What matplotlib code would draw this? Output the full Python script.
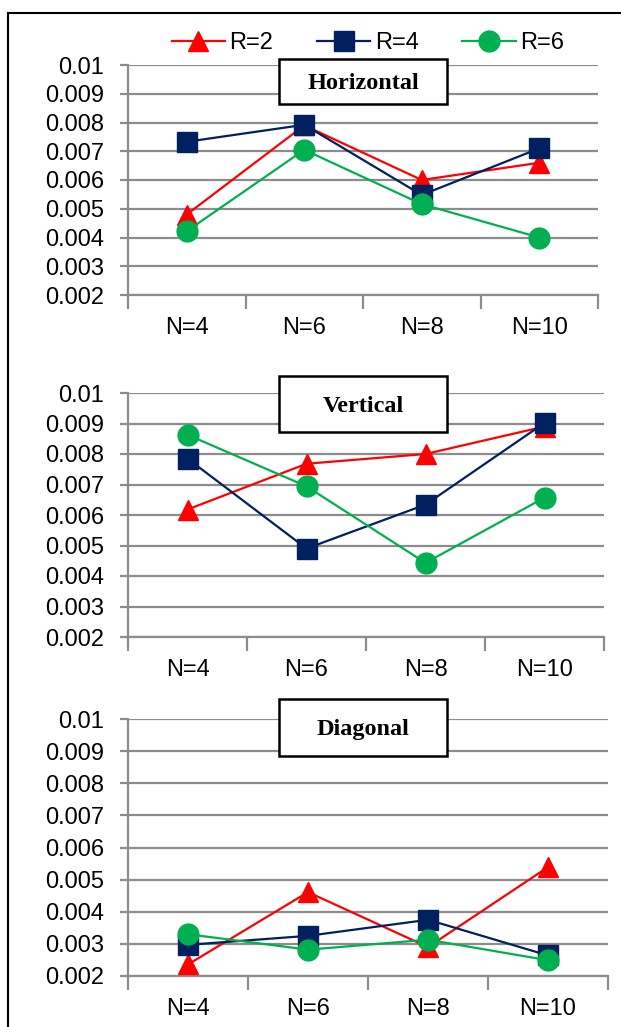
import matplotlib.pyplot as plt
from matplotlib.patches import Rectangle
from matplotlib.lines import Line2D

# data
categories = ["N=4", "N=6", "N=8", "N=10"]
series_names = ["R=2", "R=4", "R=6"]

horizontal_r2 = [0.0048, 0.0079, 0.0060, 0.0066]
horizontal_r4 = [0.00733, 0.00792, 0.00548, 0.0071]
horizontal_r6 = [0.00422, 0.00705, 0.00516, 0.0040]

vertical_r2 = [0.00618, 0.00768, 0.0080, 0.0089]
vertical_r4 = [0.00785, 0.0049, 0.00634, 0.00902]
vertical_r6 = [0.00863, 0.00694, 0.00443, 0.00657]

diagonal_r2 = [0.00236, 0.00461, 0.0029, 0.00539]
diagonal_r4 = [0.00297, 0.00325, 0.00375, 0.00264]
diagonal_r6 = [0.0033, 0.00282, 0.00313, 0.00249]

y_ticks = [0.002, 0.003, 0.004, 0.005, 0.006, 0.007, 0.008, 0.009, 0.01]
y_labels = ["0.002", "0.003", "0.004", "0.005", "0.006", "0.007", "0.008", "0.009", "0.01"]

colors = ["#FF0000", "#002060", "#00B050"]
markers = ["^", "s", "o"]
msizes = [15, 14, 15]

W, H = 621, 1027
fig = plt.figure(figsize=(W / 100, H / 100), dpi=100)
plt.rcParams['font.family'] = ['Liberation Sans', 'DejaVu Sans']
FS = 17


def px_rect(l, t, r, b):
    return [l / W, 1 - b / H, (r - l) / W, (b - t) / H]


panels = [
    ("Horizontal", [horizontal_r2, horizontal_r4, horizontal_r6], (128, 65, 598, 295), (279, 59, 447, 104)),
    ("Vertical", [vertical_r2, vertical_r4, vertical_r6], (128, 393, 604, 637), (279, 376, 447, 432)),
    ("Diagonal", [diagonal_r2, diagonal_r4, diagonal_r6], (128, 719, 608, 976), (279, 699, 447, 756)),
]

grid_col = "#8C8C8C"
x = list(range(len(categories)))
handles = []
for title, series, axbox, tbox in panels:
    ax = fig.add_axes(px_rect(*axbox))
    for i, vals in enumerate(series):
        ln, = ax.plot(x, vals, color=colors[i], marker=markers[i], markersize=msizes[i],
                      linewidth=1.6, label=series_names[i], zorder=3)
        if len(handles) < 3:
            handles.append(ln)
    ax.set_ylim(0.002, 0.01)
    ax.set_xlim(-0.5, 3.5)
    ax.set_yticks(y_ticks)
    ax.set_yticklabels(y_labels, fontsize=FS)
    ax.set_xticks(x)
    ax.set_xticklabels(categories, fontsize=FS)
    ax.set_xticks([-0.5, 0.5, 1.5, 2.5, 3.5], minor=True)
    ax.tick_params(axis='x', which='major', length=0, pad=16)
    ax.tick_params(axis='x', which='minor', length=10, width=1.6, color=grid_col)
    ax.tick_params(axis='y', length=6, width=1.6, color=grid_col, pad=11)
    ax.grid(axis='y', color=grid_col, linewidth=1.6)
    ax.set_axisbelow(True)
    for s in ["top", "right"]:
        ax.spines[s].set_visible(False)
    for s in ["left", "bottom"]:
        ax.spines[s].set_color(grid_col)
        ax.spines[s].set_linewidth(1.6)
    # title box
    l, t, r, b = tbox
    fig.patches.append(Rectangle((l / W, 1 - b / H), (r - l) / W, (b - t) / H,
                                 transform=fig.transFigure, facecolor="white",
                                 edgecolor="black", linewidth=1.8, zorder=5))
    fig.text((l + r) / 2 / W, 1 - ((t + b) / 2 + 2) / H, title, ha="center", va="center",
             fontsize=17.5, fontweight="bold", family="Liberation Serif", zorder=6)

fig.legend(handles=handles, loc="center", bbox_to_anchor=(368 / W, 1 - 43 / H), ncol=3,
           frameon=False, fontsize=FS, handlelength=2.25, handletextpad=0.2,
           columnspacing=1.85, borderpad=0)

# outer frame lines
fig.add_artist(Line2D([8 / W, 8 / W], [0, 1 - 13 / H], color="black", linewidth=1.5, transform=fig.transFigure))
fig.add_artist(Line2D([8 / W, 1], [1 - 13 / H, 1 - 13 / H], color="black", linewidth=1.5, transform=fig.transFigure))

fig.savefig("out.png", dpi=100)
